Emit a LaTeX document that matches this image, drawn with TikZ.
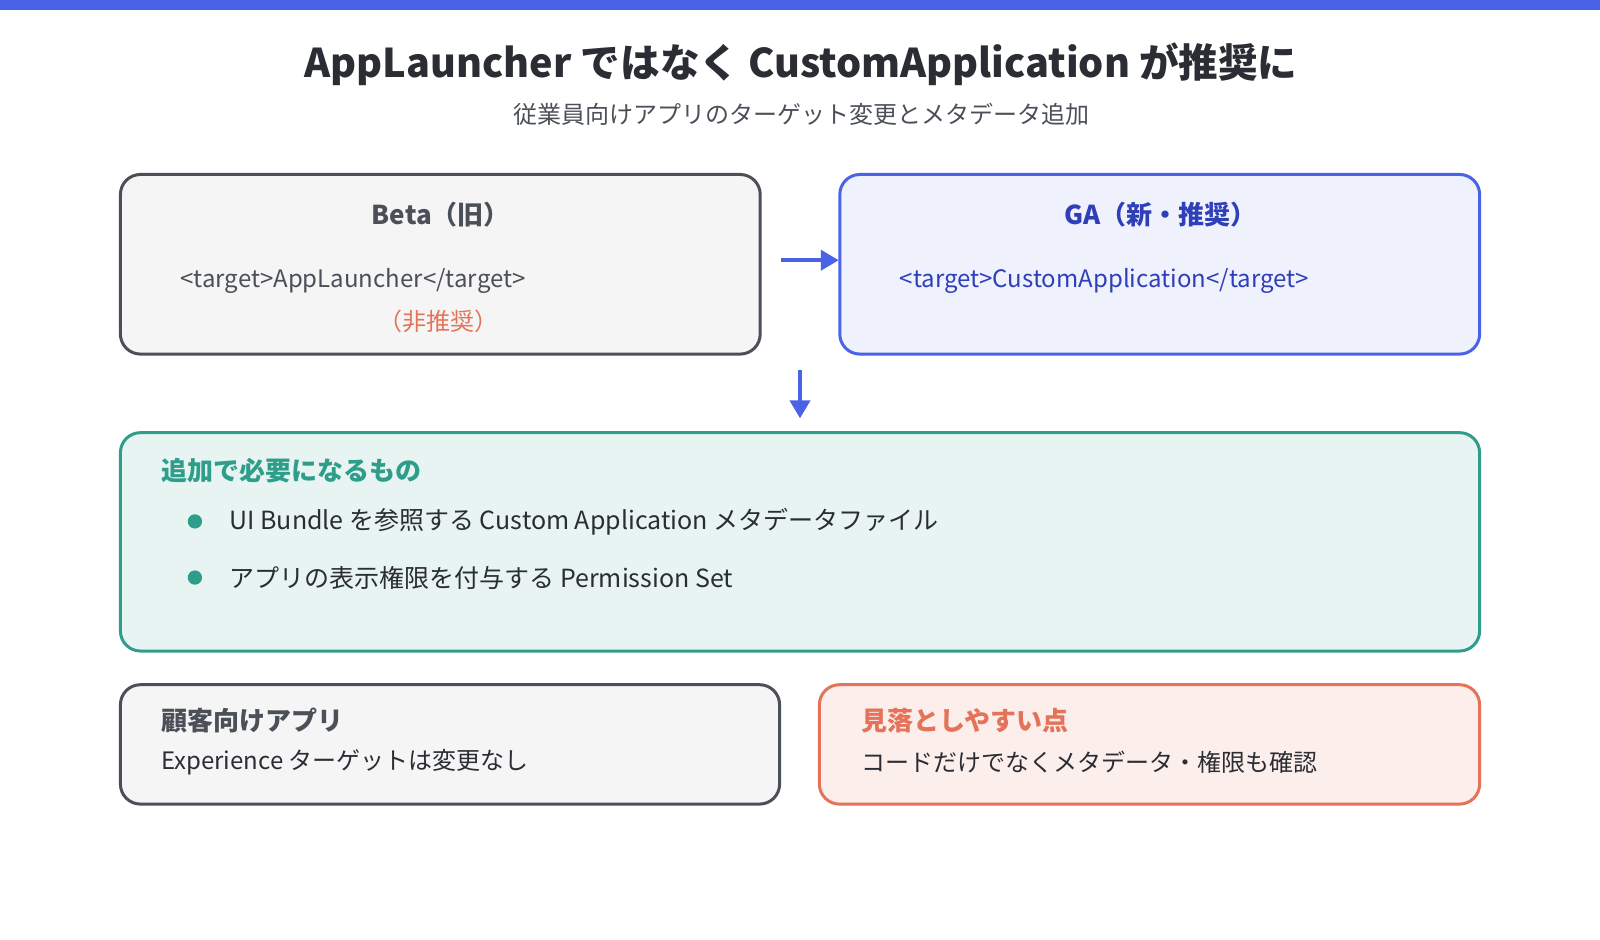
\documentclass[tikz,border=0pt]{standalone}
\usepackage{fontspec}
\setmainfont{Noto Sans CJK JP}
\usetikzlibrary{arrows.meta}
\definecolor{blu}{HTML}{4A63E6}
\definecolor{dblu}{HTML}{2F3FB8}
\definecolor{grn}{HTML}{2E9E8A}
\definecolor{org}{HTML}{E5735A}
\definecolor{dk}{HTML}{4B5058}
\definecolor{tx}{HTML}{2A2D33}
\begin{document}
\begin{tikzpicture}[x=0.5102pt,y=-0.5102pt,
  box/.style={rounded corners=10pt,line width=1.5pt},
  t/.style={anchor=west,font=\fontsize{12.5}{14}\selectfont,text=tx},
  c/.style={anchor=west,font=\fontsize{12}{14}\selectfont},
  h/.style={anchor=west,font=\bfseries\fontsize{13}{15}\selectfont},
  arr/.style={blu,line width=2pt,-{Triangle[length=9pt,width=10pt]}}]
\useasboundingbox (0,0) rectangle (1568,921);
\fill[blu] (0,0) rectangle (1568,10);
\node[font=\bfseries\fontsize{19.8}{23}\selectfont,text=tx] (title) at (785,63) {AppLauncher ではなく CustomApplication が推奨に};
\node[font=\fontsize{12}{14}\selectfont,text=dk] (sub) at (785,112) {従業員向けアプリのターゲット変更とメタデータ追加};
\draw[box,draw=dk,fill=gray!8] (118,171) rectangle (745,347);
\draw[box,draw=blu,fill=blu!9] (823,171) rectangle (1450,347);
\node[font=\bfseries\fontsize{13}{15}\selectfont,text=dk] at (432,210) {Beta（旧）};
\node[c,text=dk] at (170,275) {<target>AppLauncher</target>};
\node[font=\fontsize{12}{14}\selectfont,text=org] at (430,315) {（非推奨）};
\node[font=\bfseries\fontsize{13}{15}\selectfont,text=dblu] at (1137,210) {GA（新・推奨）};
\node[c,text=dblu] at (875,275) {<target>CustomApplication</target>};
\coordinate (a1) at (765,255); \coordinate (a2) at (822,255);
\draw[arr] (a1) -- (a2);
\coordinate (d1) at (784,363); \coordinate (d2) at (784,410);
\draw[arr] (d1) -- (d2);
\draw[box,draw=grn,fill=grn!11] (118,424) rectangle (1450,638);
\node[h,text=grn] at (151,461) {追加で必要になるもの};
\fill[grn] (191,511) circle (7);
\fill[grn] (191,566) circle (7);
\node[t] at (218,511) {UI Bundle を参照する Custom Application メタデータファイル};
\node[t] at (218,566) {アプリの表示権限を付与する Permission Set};
\draw[box,draw=dk,fill=gray!8] (118,671) rectangle (764,788);
\node[h,text=dk] at (151,706) {顧客向けアプリ};
\node[c,text=tx] at (151,747) {Experience ターゲットは変更なし};
\draw[box,draw=org,fill=org!12] (803,671) rectangle (1450,788);
\node[h,text=org] at (837,706) {見落としやすい点};
\node[c,text=tx] at (837,747) {コードだけでなくメタデータ・権限も確認};
\end{tikzpicture}
\end{document}
